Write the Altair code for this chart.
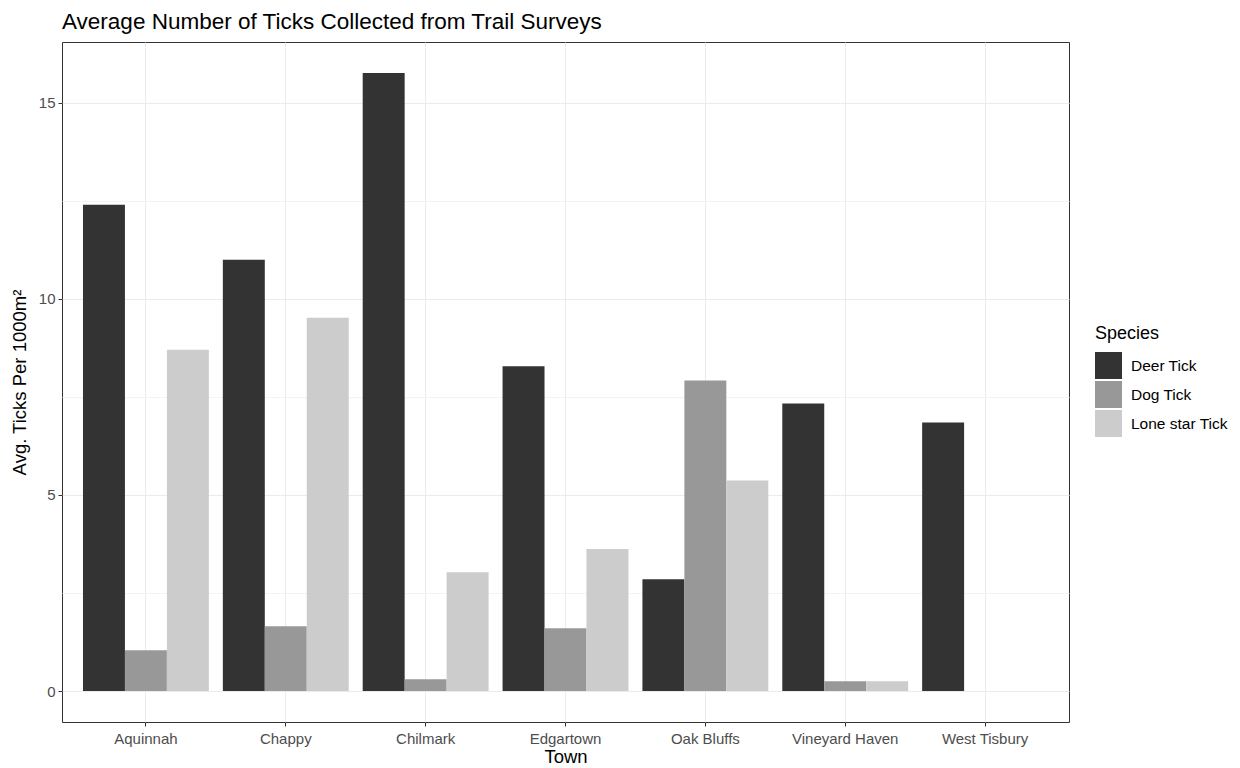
import altair as alt
import pandas as pd

towns = ["Aquinnah", "Chappy", "Chilmark", "Edgartown", "Oak Bluffs", "Vineyard Haven", "West Tisbury"]
species = ["Deer Tick", "Dog Tick", "Lone star Tick"]
deer = [12.40, 11.00, 15.76, 8.28, 2.85, 7.33, 6.85]
dog = [1.04, 1.65, 0.30, 1.60, 7.92, 0.25, 0.0]
lone = [8.70, 9.52, 3.03, 3.62, 5.37, 0.25, 0.0]
colors = ["#333333", "#989898", "#cccccc"]
y_ticks = [0, 2.5, 5, 7.5, 10, 12.5, 15]

rows = []
for i, t in enumerate(towns):
    for s, vals in zip(species, [deer, dog, lone]):
        rows.append({"Town": t, "Species": s, "Avg": vals[i]})
df = pd.DataFrame(rows)

FONT = "Liberation Sans"
major = "datum.value % 5 === 0"

chart = alt.Chart(df).mark_bar().encode(
    x=alt.X(
        "Town:N", sort=towns,
        scale=alt.Scale(paddingInner=0.1, paddingOuter=0.15),
        axis=alt.Axis(
            title="Town", labelAngle=0, grid=True, gridColor="#ebebeb",
            tickSize=4, tickColor="#333333", labelColor="#4d4d4d",
            labelFontSize=15, titleFontSize=18.5, labelPadding=5, titlePadding=1,
            domain=False, titleFontWeight="normal", titleColor="black",
            labelFont=FONT, titleFont=FONT,
        ),
    ),
    xOffset=alt.XOffset("Species:N", sort=species,
                        scale=alt.Scale(paddingInner=0, paddingOuter=0)),
    y=alt.Y(
        "Avg:Q",
        scale=alt.Scale(domain=[-0.79, 16.55], nice=False, zero=False),
        axis=alt.Axis(
            title="Avg. Ticks Per 1000m²", values=y_ticks,
            labelExpr=f"{major} ? datum.label : ''",
            gridColor={"condition": {"test": major, "value": "#ebebeb"}, "value": "#f3f3f3"},
            tickOpacity={"condition": {"test": major, "value": 1}, "value": 0},
            tickSize=4, tickColor="#333333", labelColor="#4d4d4d",
            labelFontSize=15, titleFontSize=18.5, labelPadding=3, titlePadding=9,
            domain=False, titleFontWeight="normal", titleColor="black",
            labelFont=FONT, titleFont=FONT,
        ),
    ),
    y2=alt.datum(0),
    color=alt.Color(
        "Species:N", sort=species,
        scale=alt.Scale(domain=species, range=colors),
        legend=alt.Legend(
            title="Species", orient="none", legendX=1033, legendY=283,
            symbolType="square", symbolSize=729, symbolStrokeWidth=0,
            symbolOpacity=1, labelFontSize=15.5, titleFontSize=18,
            titleFontWeight="normal", titleColor="black", labelColor="black",
            rowPadding=2, titlePadding=9, padding=0, labelOffset=9,
            labelFont=FONT, titleFont=FONT,
        ),
    ),
).properties(
    width=1007,
    height=680,
    background="white",
    title=alt.TitleParams(
        "Average Number of Ticks Collected from Trail Surveys",
        anchor="start", fontSize=22.5, font=FONT, fontWeight="normal",
        color="black", offset=9, frame="group",
    ),
    autosize=alt.AutoSizeParams(type="none"),
    padding={"left": 54, "top": 34, "right": 163, "bottom": 46},
).configure_view(
    stroke="#333333", strokeWidth=1
)

chart.save("out.html", embed_options={"renderer": "svg", "actions": False})
